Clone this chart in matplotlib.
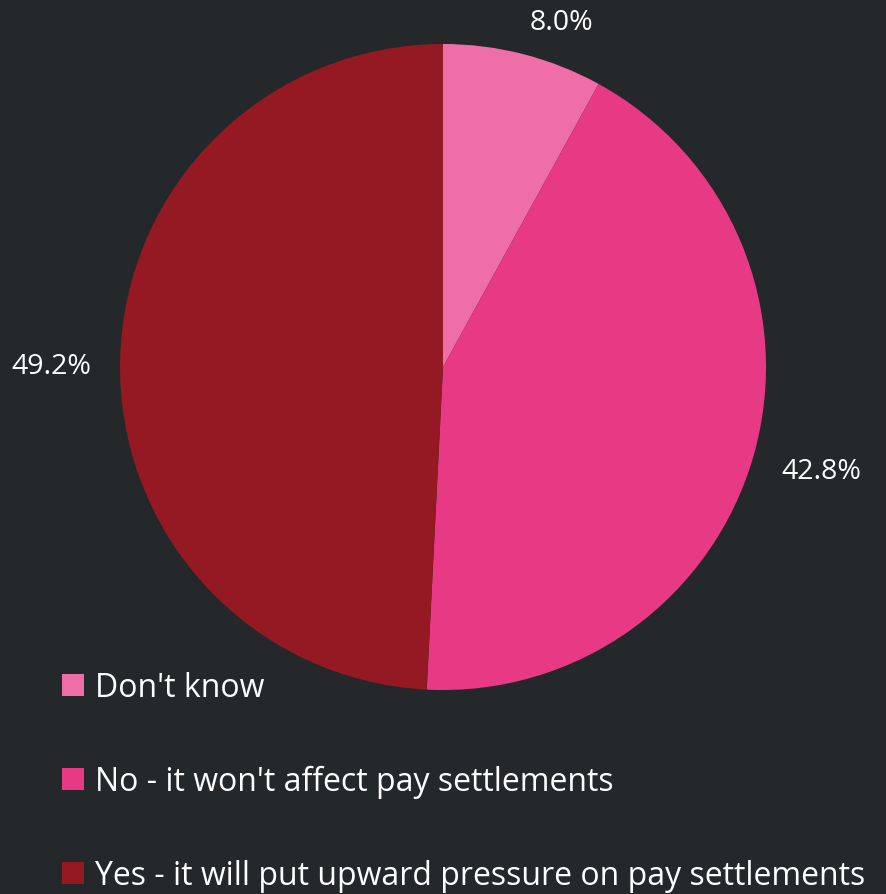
import numpy as np
import matplotlib.pyplot as plt
from matplotlib.patches import Patch

categories = ["Don't know", "No - it won't affect pay settlements",
              "Yes - it will put upward pressure on pay settlements"]
shares = [8.0, 42.8, 49.2]
colors = ["#f06ea8", "#e83a84", "#951922"]

BG = "#25282b"
plt.rcParams['font.family'] = ['Open Sans', 'DejaVu Sans']

W, H = 887, 895
fig = plt.figure(figsize=(W / 100, H / 100), dpi=100, facecolor=BG)

cx, cy, R = 443, 368, 323
ax = fig.add_axes([(cx - R) / W, (H - cy - R) / H, 2 * R / W, 2 * R / H])
ax.set_facecolor(BG)

wedges, _ = ax.pie(shares, colors=colors, startangle=90, counterclock=False,
                   radius=1.0, wedgeprops=dict(linewidth=0))
ax.set_xlim(-1, 1)
ax.set_ylim(-1, 1)
ax.set_aspect('equal')
ax.axis('off')

# value labels just outside the rim, aligned away from the pie
for w, v in zip(wedges, shares):
    ang = np.deg2rad((w.theta1 + w.theta2) / 2)
    x, y = np.cos(ang), np.sin(ang)
    ha = 'left' if x > 0 else 'right'
    if y > 0.6:
        d, va = 1.08, 'baseline'
    else:
        d, va = 1.09, 'center_baseline'
        y -= 0.012
    ax.text(d * x, d * y, f"{v:.1f}%", ha=ha, va=va, color='white',
            fontsize=20.5, clip_on=False)

handles = [Patch(facecolor=c, edgecolor='none') for c in colors]
leg = fig.legend(handles, categories, loc='upper left',
                 bbox_to_anchor=(62 / W, 1 - 672 / H), frameon=False,
                 fontsize=23, labelcolor='white', handlelength=0.69,
                 handleheight=0.69, handletextpad=0.35, labelspacing=1.91,
                 borderpad=0, borderaxespad=0)

fig.savefig("out.png", dpi=100, facecolor=BG)
